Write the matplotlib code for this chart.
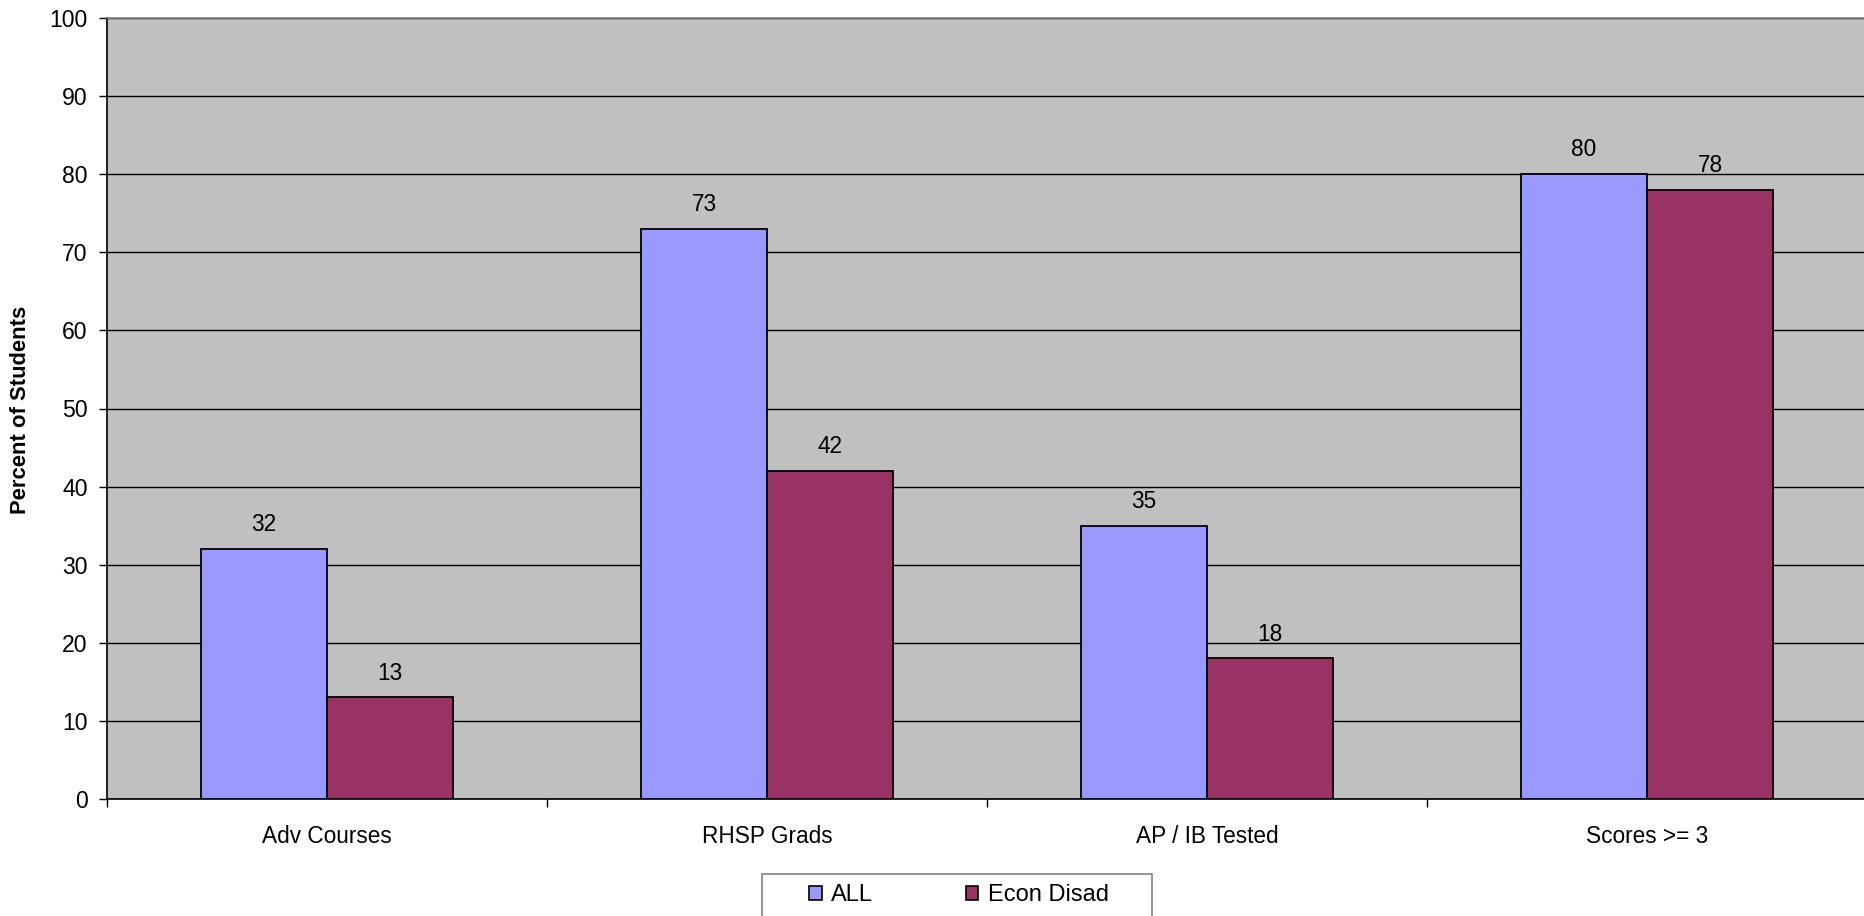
import numpy as np
import matplotlib.pyplot as plt
from matplotlib.patches import Patch, Rectangle

# =============================================================================
# Data
# =============================================================================

categories = ["Adv Courses", "RHSP Grads", "AP / IB Tested", "Scores >= 3"]
all_students = [32, 73, 35, 80]
econ_disad = [13, 42, 18, 78]
series_names = ["ALL", "Econ Disad"]

# =============================================================================
# Style
# =============================================================================

W, H, DPI = 1865, 916, 100
COLOR_ALL = "#9999FF"
COLOR_ECON = "#993366"
PLOT_BG = "#C0C0C0"
FONT_SIZE = 16.3

plt.rcParams["font.family"] = ["Liberation Sans", "DejaVu Sans"]


def px_x(x):
    return x / W


def px_y(y):
    return 1 - y / H


def main():
    fig = plt.figure(figsize=(W / DPI, H / DPI), dpi=DPI)

    # plot area in pixels: left 107, right 1867, top 18, bottom 799
    left, right, top, bottom = 107, 1867, 18, 799
    ax = fig.add_axes([px_x(left), px_y(bottom),
                       (right - left) / W, (bottom - top) / H])
    ax.set_facecolor(PLOT_BG)

    x = np.arange(len(categories))
    width = 0.2865

    bars_all = ax.bar(x - width / 2, all_students, width,
                      color=COLOR_ALL, edgecolor="black", linewidth=1.3,
                      zorder=3)
    bars_econ = ax.bar(x + width / 2, econ_disad, width,
                       color=COLOR_ECON, edgecolor="black", linewidth=1.3,
                       zorder=3)

    for bars in (bars_all, bars_econ):
        for bar in bars:
            ax.annotate(f"{bar.get_height():.0f}",
                        (bar.get_x() + bar.get_width() / 2, bar.get_height()),
                        xytext=(0, 17.5), textcoords="offset points",
                        ha="center", va="center", fontsize=FONT_SIZE)

    ax.set_xlim(-0.5, len(categories) - 0.5)
    ax.set_ylim(0, 100)

    # category boundaries as major ticks, labels on minor ticks
    ax.set_xticks(np.arange(len(categories) + 1) - 0.5)
    ax.set_xticklabels([])
    ax.set_xticks(x, minor=True)
    ax.set_xticklabels(categories, minor=True, fontsize=FONT_SIZE)
    ax.tick_params(axis="x", which="major", direction="out", length=6,
                   width=1, color="black")
    ax.tick_params(axis="x", which="minor", length=0, pad=18.5)

    ax.set_yticks(np.arange(0, 101, 10))
    ax.tick_params(axis="y", direction="out", length=6, width=1,
                   pad=8, labelsize=FONT_SIZE + 0.3)

    ax.yaxis.grid(True, color="black", linewidth=1.0, zorder=1)
    ax.set_axisbelow(True)

    ax.spines["left"].set_color("black")
    ax.spines["bottom"].set_color("black")
    ax.spines["top"].set_color("#808080")
    ax.spines["right"].set_visible(False)
    for side in ("left", "bottom", "top"):
        ax.spines[side].set_linewidth(1.2)

    fig.text(px_x(21), px_y(410), "Percent of Students", rotation=90,
             ha="center", va="center", fontsize=FONT_SIZE - 0.5,
             fontweight="bold")

    # legend frame drawn by hand so the box runs past the bottom edge
    frame = Rectangle((px_x(762), px_y(925)), (1152 - 762) / W, 51 / H,
                      transform=fig.transFigure, facecolor="white",
                      edgecolor="#808080", linewidth=1.2)
    fig.patches.append(frame)

    handles = [Patch(facecolor=COLOR_ALL, edgecolor="black", linewidth=1.2),
               Patch(facecolor=COLOR_ECON, edgecolor="black", linewidth=1.2)]
    fig.legend(handles, series_names, loc="center left",
               bbox_to_anchor=(px_x(809), px_y(895)), ncol=2,
               frameon=False, fontsize=FONT_SIZE + 0.7, borderpad=0,
               borderaxespad=0, handlelength=0.55, handleheight=0.55,
               handletextpad=0.4, columnspacing=3.9)

    fig.savefig("out.png", dpi=DPI)


if __name__ == "__main__":
    main()
